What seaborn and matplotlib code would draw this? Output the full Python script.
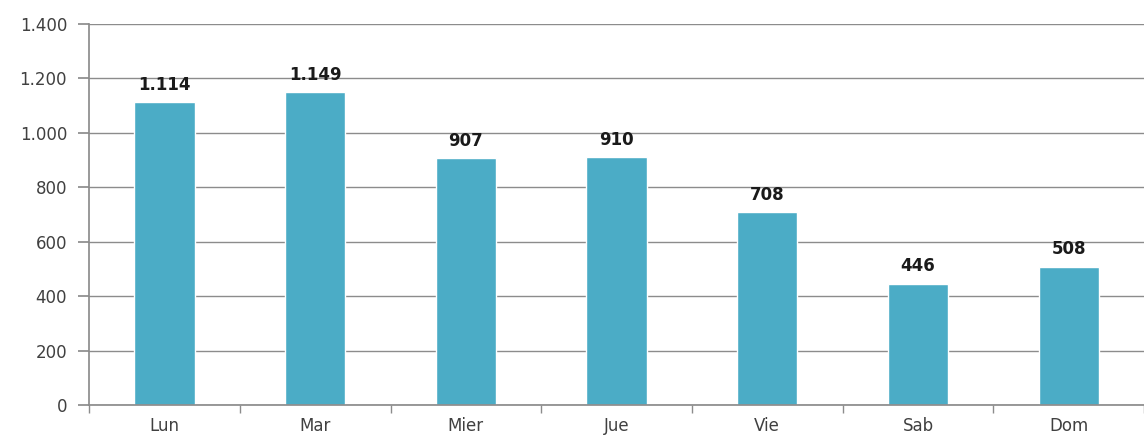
import matplotlib
matplotlib.use("Agg")
import matplotlib.pyplot as plt
import seaborn as sns
import numpy as np
import pandas as pd
from matplotlib.ticker import FuncFormatter, FixedLocator

dias = ["Lun", "Mar", "Mier", "Jue", "Vie", "Sab", "Dom"]
valores = [1114, 1149, 907, 910, 708, 446, 508]
etiquetas = ["1.114", "1.149", "907", "910", "708", "446", "508"]

sns.set_theme(style="white")
plt.rcParams['font.family'] = ['DejaVu Sans']

fig = plt.figure(figsize=(11.44, 4.45), dpi=100)
ax = fig.add_axes([0.078, 0.09, 0.922, 0.856])

df = pd.DataFrame({"dia": dias, "valor": valores})
sns.barplot(data=df, x="dia", y="valor", color="#4BACC6", saturation=1, width=0.4, ax=ax)

ax.set_ylim(0, 1400)
ax.set_xlim(-0.5, len(dias) - 0.5)
ax.set_yticks(np.arange(0, 1401, 200))
ax.yaxis.set_major_formatter(FuncFormatter(lambda v, p: f"{int(v):,}".replace(",", ".")))
ax.grid(axis="y", color="#8c8c8c", linewidth=1)
ax.set_axisbelow(True)
for s in ["top", "right"]:
    ax.spines[s].set_visible(False)
ax.spines["left"].set_color("#8c8c8c")
ax.spines["bottom"].set_color("#8c8c8c")
ax.set_xlabel("")
ax.set_ylabel("")

ax.tick_params(axis="y", which="major", length=8, color="#8c8c8c", labelsize=12, labelcolor="#404040", left=True, pad=8)
ax.tick_params(axis="x", which="major", length=0, labelsize=12, labelcolor="#404040", pad=9)
ax.xaxis.set_minor_locator(FixedLocator(np.arange(-0.5, len(dias), 1)))
ax.tick_params(axis="x", which="minor", length=6, color="#8c8c8c", bottom=True)

for i, (v, t) in enumerate(zip(valores, etiquetas)):
    ax.annotate(t, (i, v), xytext=(0, 6), textcoords="offset points",
                ha="center", va="bottom", fontsize=12, fontweight="bold", color="#1a1a1a")

fig.savefig("out.png", dpi=100)
